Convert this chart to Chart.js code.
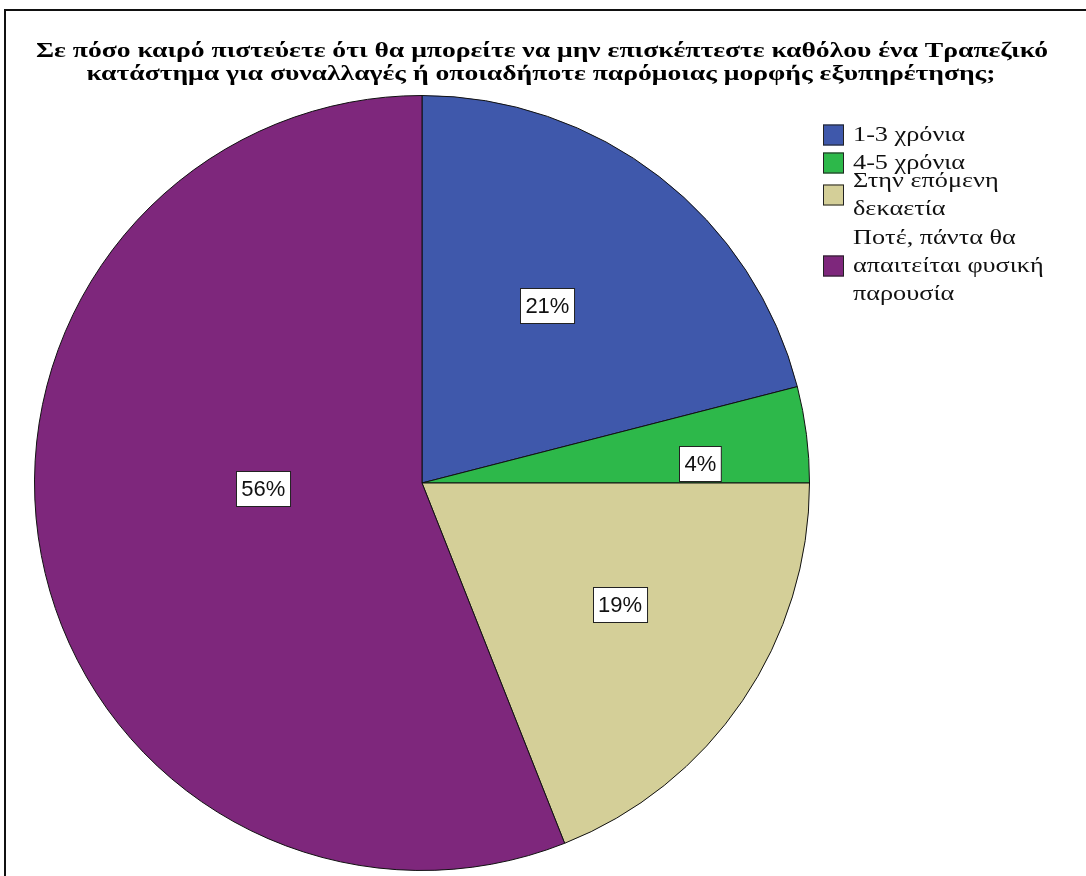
<!DOCTYPE html>
<html>
<head>
<meta charset="utf-8">
<script src="https://cdn.jsdelivr.net/npm/chart.js@4/dist/chart.umd.min.js"></script>
<style>
  html, body { margin: 0; padding: 0; background: #ffffff; }
  #wrap { position: relative; width: 1086px; height: 876px; overflow: hidden; }
  canvas { display: block; }
</style>
</head>
<body>
<div id="wrap"><canvas id="chart" width="1086" height="876"></canvas></div>
<script>
// Survey question and answer categories
const titleLines = [
  'Σε πόσο καιρό πιστεύετε ότι θα μπορείτε να μην επισκέπτεστε καθόλου ένα Τραπεζικό',
  'κατάστημα για συναλλαγές ή οποιαδήποτε παρόμοιας μορφής εξυπηρέτησης;'
];
const categories = [
  '1-3 χρόνια',
  '4-5 χρόνια',
  'Στην επόμενη δεκαετία',
  'Ποτέ, πάντα θα απαιτείται φυσική παρουσία'
];
// Legend text, wrapped the way it is printed
const legendLines = [
  ['1-3 χρόνια'],
  ['4-5 χρόνια'],
  ['Στην επόμενη', 'δεκαετία'],
  ['Ποτέ, πάντα θα', 'απαιτείται φυσική', 'παρουσία']
];
// Share of respondents (%)
const percentages = [21, 4, 19, 56];
const sliceColors = ['#3F58AB', '#2DB84A', '#D4CF98', '#7E277C'];

// Where each percentage box sits: fraction of the radius and a small
// angular nudge (degrees) away from the slice's middle angle
const labelRadius = [0.56, 0.72, 0.60, 0.41];
const labelNudge = [-2.5, 3.2, -2.6, 8.8];

// Draws text with a horizontal stretch factor
function wideText(ctx, text, x, y, sx, align) {
  ctx.save();
  ctx.translate(x, y);
  ctx.scale(sx, 1);
  ctx.textAlign = align;
  ctx.fillText(text, 0, 0);
  ctx.restore();
}

const decorations = {
  id: 'decorations',
  afterDraw(chart) {
    const ctx = chart.ctx;
    ctx.save();

    // outer frame (left and top edges)
    ctx.strokeStyle = '#111';
    ctx.lineWidth = 2;
    ctx.beginPath();
    ctx.moveTo(5, 876);
    ctx.lineTo(5, 10);
    ctx.lineTo(1086, 10);
    ctx.stroke();

    // title, stretched to span the frame width
    ctx.fillStyle = '#000';
    ctx.font = 'bold 21px "Liberation Serif", "DejaVu Serif", serif';
    ctx.textBaseline = 'alphabetic';
    const titleScale = 1012 / ctx.measureText(titleLines[0]).width;
    wideText(ctx, titleLines[0], 542, 57, titleScale, 'center');
    wideText(ctx, titleLines[1], 541, 80, titleScale, 'center');

    // legend
    const meta = chart.getDatasetMeta(0);
    const boxX = 823, boxSize = 21, textX = 853, lineH = 28;
    const centers = [135, 163, 195, 266];
    ctx.font = '21px "Liberation Serif", "DejaVu Serif", serif';
    ctx.textBaseline = 'middle';
    legendLines.forEach((lines, i) => {
      const cy = centers[i];
      ctx.fillStyle = sliceColors[i];
      ctx.fillRect(boxX, cy - boxSize / 2, boxSize, boxSize);
      ctx.strokeStyle = '#222';
      ctx.lineWidth = 1;
      ctx.strokeRect(boxX + 0.5, cy - boxSize / 2 + 0.5, boxSize - 1, boxSize - 1);
      ctx.fillStyle = '#111';
      const top = cy - (lines.length - 1) * lineH / 2;
      lines.forEach((t, k) => wideText(ctx, t, textX, top + k * lineH, 1.25, 'left'));
    });

    // percentage boxes on the slices
    ctx.font = '22px "Liberation Sans", Arimo, sans-serif';
    ctx.textAlign = 'center';
    meta.data.forEach((arc, i) => {
      const p = arc.getProps(['x', 'y', 'startAngle', 'endAngle', 'outerRadius'], true);
      const mid = (p.startAngle + p.endAngle) / 2 + labelNudge[i] * Math.PI / 180;
      const r = p.outerRadius * labelRadius[i];
      const lx = p.x + Math.cos(mid) * r;
      const ly = p.y + Math.sin(mid) * r;
      const txt = percentages[i] + '%';
      const w = ctx.measureText(txt).width + 10;
      const h = 35;
      const bx = Math.round(lx - w / 2) + 0.5;
      const by = Math.round(ly - h / 2) + 0.5;
      ctx.fillStyle = '#ffffff';
      ctx.fillRect(bx, by, w, h);
      ctx.strokeStyle = '#222';
      ctx.lineWidth = 1;
      ctx.strokeRect(bx, by, w, h);
      ctx.fillStyle = '#111';
      ctx.fillText(txt, lx, ly + 1);
    });

    ctx.restore();
  }
};

new Chart(document.getElementById('chart'), {
  type: 'pie',
  data: {
    labels: categories,
    datasets: [{
      data: percentages,
      backgroundColor: sliceColors,
      borderColor: '#111',
      borderWidth: 1
    }]
  },
  options: {
    responsive: false,
    animation: false,
    events: [],
    layout: { padding: { left: 34, top: 95, right: 276, bottom: 5 } },
    plugins: {
      legend: { display: false },
      title: { display: false },
      tooltip: { enabled: false }
    }
  },
  plugins: [decorations]
});
</script>
</body>
</html>
